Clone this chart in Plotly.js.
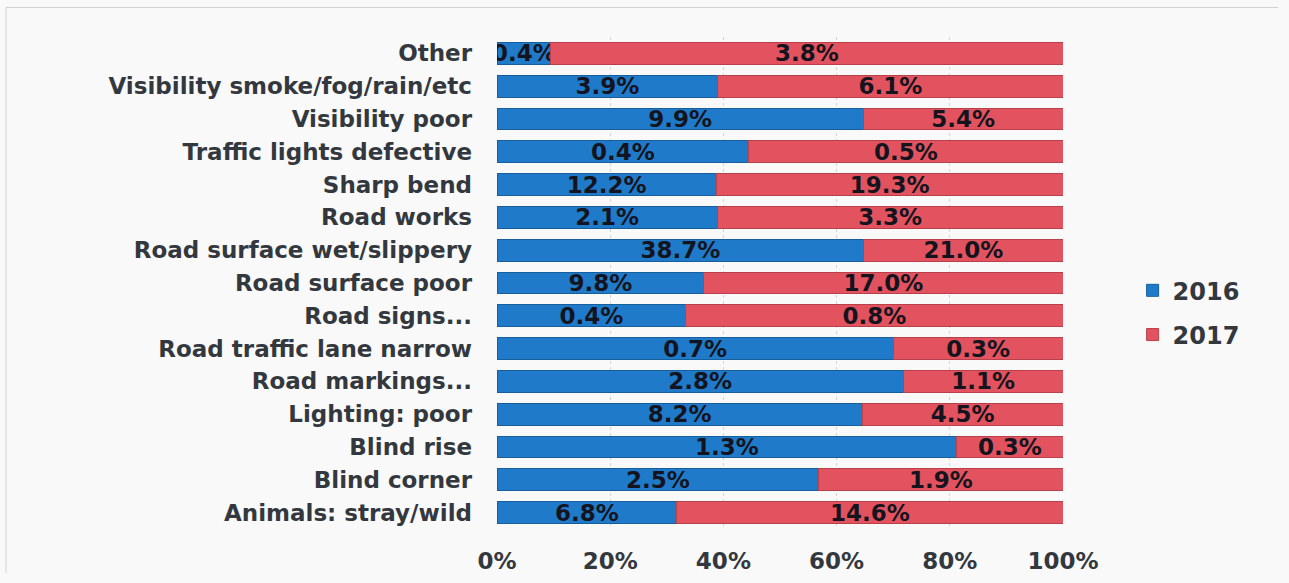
<!DOCTYPE html>
<html>
<head>
<meta charset="utf-8">
<script src="https://cdn.plot.ly/plotly-3.0.1.min.js"></script>
<style>
  html, body { margin: 0; padding: 0; background: #f9f9f9; }
  #chart { width: 1289px; height: 583px; }
</style>
</head>
<body>
<div id="chart"></div>
<script>
// Road-condition factors, listed top to bottom
const categories = [
  "Other",
  "Visibility smoke/fog/rain/etc",
  "Visibility poor",
  "Traffic lights defective",
  "Sharp bend",
  "Road works",
  "Road surface wet/slippery",
  "Road surface poor",
  "Road signs...",
  "Road traffic lane narrow",
  "Road markings...",
  "Lighting: poor",
  "Blind rise",
  "Blind corner",
  "Animals: stray/wild"
];

// Share of crashes (%) per factor for each year
const values2016 = [0.4, 3.9, 9.9, 0.4, 12.2, 2.1, 38.7, 9.8, 0.4, 0.7, 2.8, 8.2, 1.3, 2.5, 6.8];
const values2017 = [3.8, 6.1, 5.4, 0.5, 19.3, 3.3, 21.0, 17.0, 0.8, 0.3, 1.1, 4.5, 0.3, 1.9, 14.6];

const xTickVals = [0, 20, 40, 60, 80, 100];
const xTickText = ["0%", "20%", "40%", "60%", "80%", "100%"];

const labelFont = { family: "DejaVu Sans", size: 23, color: "#14141e", weight: "bold" };
const axisFont = { family: "DejaVu Sans", size: 23, color: "#33383e", weight: "bold" };

function barTrace(name, vals, fill, edge, group) {
  return {
    type: "bar",
    orientation: "h",
    name: name,
    legendgroup: group,
    y: categories,
    x: vals,
    text: vals.map(v => v.toFixed(1) + "%"),
    textposition: "inside",
    insidetextanchor: "middle",
    textangle: 0,
    constraintext: "none",
    textfont: labelFont,
    marker: { color: fill, line: { color: edge, width: 1 } },
    hoverinfo: "name+x+y"
  };
}

const data = [
  barTrace("2016", values2016, "#1f7bc9", "#175f9c", "a"),
  barTrace("2017", values2017, "#e3535f", "#b8404a", "b")
];

const layout = {
  width: 1289,
  height: 583,
  margin: { l: 497, r: 226, t: 37, b: 54, pad: 0 },
  paper_bgcolor: "#f9f9f9",
  plot_bgcolor: "#f9f9f9",
  barmode: "stack",
  barnorm: "percent",
  bargap: 0.33,
  showlegend: true,
  legend: {
    x: 1.123, y: 0.53, xanchor: "left", yanchor: "top",
    traceorder: "grouped",
    tracegroupgap: 10,
    font: { family: "DejaVu Sans", size: 24, color: "#33383e", weight: "bold" },
    bgcolor: "rgba(0,0,0,0)"
  },
  xaxis: {
    range: [0, 100],
    tickvals: xTickVals,
    ticktext: xTickText,
    ticks: "outside",
    ticklen: 11,
    tickcolor: "rgba(0,0,0,0)",
    showgrid: true,
    gridcolor: "#d6d6d6",
    griddash: "dot",
    zeroline: false,
    showline: false,
    tickfont: axisFont,
    fixedrange: true
  },
  yaxis: {
    type: "category",
    autorange: "reversed",
    ticks: "",
    ticklabelstandoff: 24,
    showgrid: false,
    zeroline: false,
    showline: false,
    tickfont: axisFont,
    fixedrange: true
  },
  shapes: [
    { type: "line", xref: "paper", yref: "paper", x0: -0.8675, x1: -0.8675, y0: -0.09, y1: 1.06,
      line: { color: "#d2d2d2", width: 1 } },
    { type: "line", xref: "paper", yref: "paper", x0: -0.8675, x1: 1.38, y0: 1.06, y1: 1.06,
      line: { color: "#d2d2d2", width: 1 } }
  ]
};

Plotly.newPlot("chart", data, layout, { displayModeBar: false, staticPlot: true });
</script>
</body>
</html>
